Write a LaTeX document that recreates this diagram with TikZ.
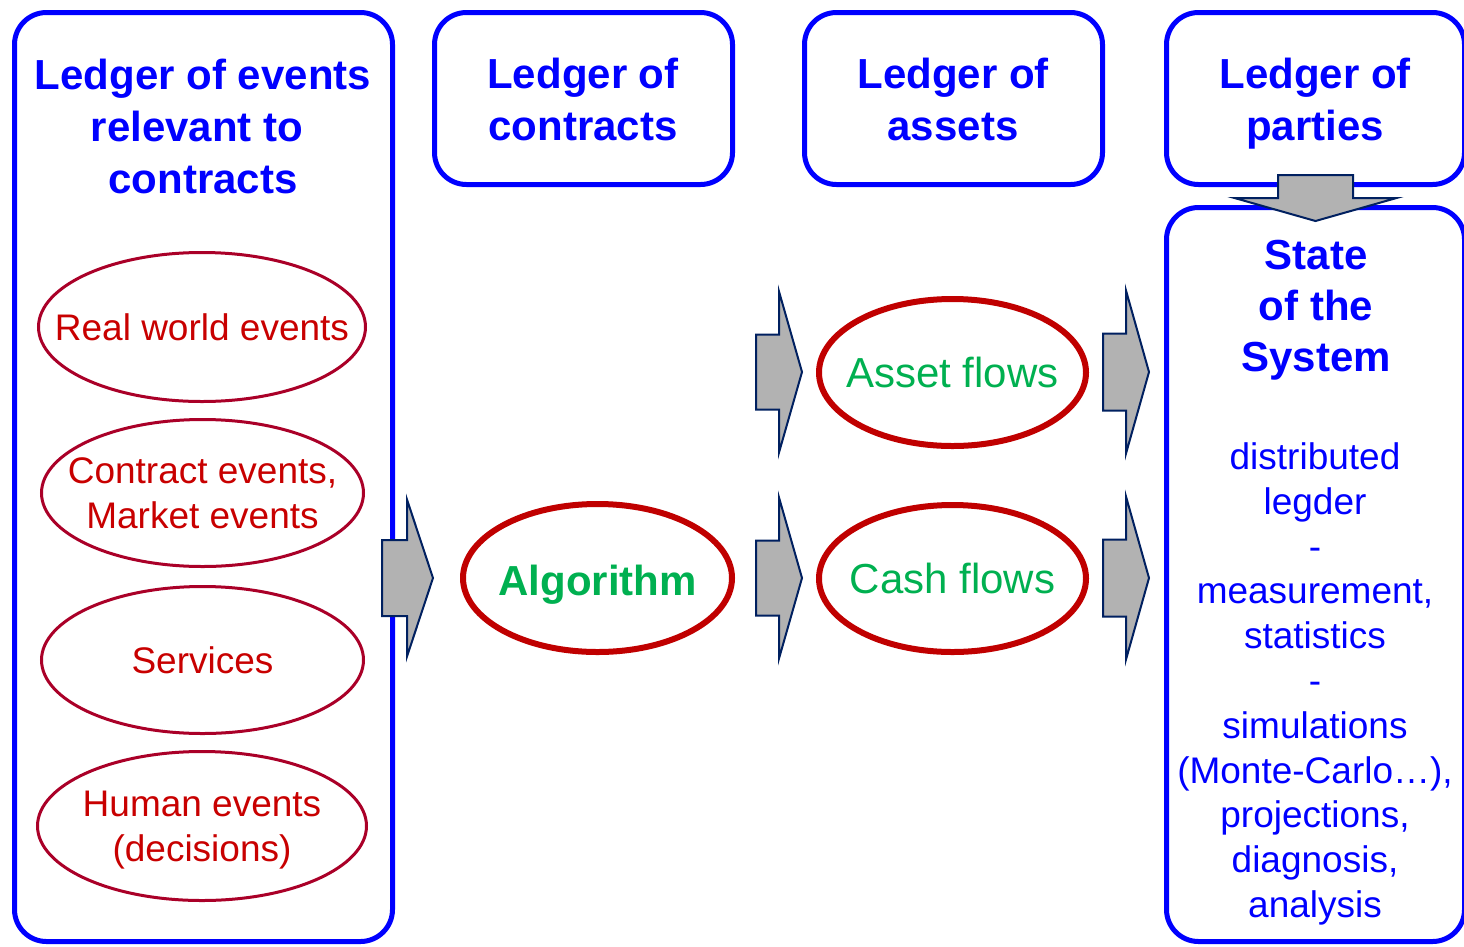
\documentclass[tikz,border=0pt]{standalone}
\usepackage{fontspec}
\setmainfont{Liberation Sans}
\usetikzlibrary{shapes.geometric}
\definecolor{bblue}{RGB}{0,0,255}
\definecolor{dred}{RGB}{170,0,40}
\definecolor{tred}{RGB}{200,0,0}
\definecolor{thred}{RGB}{192,0,0}
\definecolor{gr}{RGB}{0,176,80}
\definecolor{arrgray}{RGB}{178,178,178}
\definecolor{navy}{RGB}{0,32,96}
\begin{document}
\begin{tikzpicture}[x=1pt,y=-1pt,
  ledger/.style={draw=bblue, line width=5pt, rounded corners=32pt, inner sep=0pt},
  evt/.style={ellipse, draw=dred, line width=3pt, inner sep=0pt},
  evttext/.style={text=tred, align=center, font=\fontsize{37}{45}\selectfont, text depth=0pt, inner sep=0pt},
  flow/.style={ellipse, draw=thred, line width=6pt, inner sep=0pt, minimum width=267pt, minimum height=147pt},
  flowtext/.style={text=gr, font=\fontsize{42}{52}\selectfont, text depth=0pt, inner sep=0pt},
  ttl/.style={text=bblue, align=center, font=\fontsize{42}{52}\selectfont\bfseries, text depth=0pt, inner sep=0pt},
  ttlb/.style={text=bblue, align=center, font=\fontsize{42}{51}\selectfont\bfseries, text depth=0pt, inner sep=0pt},
  bodytext/.style={text=bblue, align=center, font=\fontsize{37}{44.8}\selectfont, text depth=0pt, inner sep=0pt},
  blockarrow/.style={fill=arrgray, draw=navy, line width=2pt, line join=miter},
  pics/rarrow/.style n args={4}{code={\draw[blockarrow] (-#1,-#3) -- (0,-#3) -- (0,-#4) -- (#2,0) -- (0,#4) -- (0,#3) -- (-#1,#3) -- cycle;}},
  pics/darrow/.style n args={4}{code={\draw[blockarrow] (-#3,-#1) -- (#3,-#1) -- (#3,0) -- (#4,0) -- (0,#2) -- (-#4,0) -- (-#3,0) -- cycle;}}
]
\useasboundingbox (0,0) rectangle (1464,946);
\clip (0,0) rectangle (1464,946);

% ledger boxes
\node[ledger, minimum width=378pt, minimum height=929pt] (evbox) at (203.5,477) {};
\node[ledger, minimum width=298pt, minimum height=172pt] (contracts) at (583.5,98.5) {};
\node[ledger, minimum width=298pt, minimum height=172pt] (assets) at (953.5,98.5) {};
\node[ledger, minimum width=298pt, minimum height=172pt] (parties) at (1315.5,98.5) {};
\node[ledger, minimum width=298pt, minimum height=734pt] (state) at (1315.5,574.5) {};

% titles
\node[ttl] (t1) at (203,126.5) {Ledger of events\\relevant to\rule{12pt}{0pt}\\contracts};
\node[ttl] (t2) at (583,99.5) {Ledger of\\contracts};
\node[ttl] (t3) at (953,99.5) {Ledger of\\assets};
\node[ttl] (t4) at (1315,99.5) {Ledger of\\parties};
\node[ttlb] (t5) at (1316,305.5) {State\\of the\\System};
\node[bodytext] (sbody) at (1315,680) {distributed\\legder\\-\\measurement,\\statistics\\-\\simulations\\(Monte-Carlo…),\\projections,\\diagnosis,\\analysis};

% event ellipses
\node[evt, minimum width=327pt, minimum height=149pt] (real) at (202,327) {};
\node[evttext] (realt) at (real) {Real world events};
\node[evt, minimum width=322pt, minimum height=147pt] (contract) at (202.5,493) {};
\node[evttext] (contractt) at (contract) {Contract events,\\Market events};
\node[evt, minimum width=322pt, minimum height=147pt] (services) at (202.5,660) {};
\node[evttext] (servicest) at (services) {Services};
\node[evt, minimum width=329pt, minimum height=149pt] (human) at (202,826) {};
\node[evttext] (humant) at (human) {Human events\\(decisions)};

% flows
\node[flow, minimum width=269pt, minimum height=148pt] (alg) at (597.5,578) {};
\node[flowtext, font=\fontsize{42}{52}\selectfont\bfseries] (algt) at (597.5,580) {Algorithm};
\node[flow] (asset) at (952.5,372.5) {};
\node[flowtext] (assett) at (asset) {Asset flows};
\node[flow] (cash) at (952.5,578.5) {};
\node[flowtext] (casht) at (cash) {Cash flows};

% block arrows
\pic (a1) at (407,578) {rarrow={25}{26}{38}{78.5}};
\pic (a2) at (779,372) {rarrow={23}{23}{37.5}{80.5}};
\pic (a3) at (1126,372) {rarrow={23}{23}{38.5}{81.5}};
\pic (a4) at (779,578) {rarrow={23}{23}{37.5}{80.5}};
\pic (a5) at (1126,578) {rarrow={23}{23}{38.5}{81.5}};
\pic (a6) at (1315.5,198) {darrow={23}{23}{37.5}{81}};
\end{tikzpicture}
\end{document}
